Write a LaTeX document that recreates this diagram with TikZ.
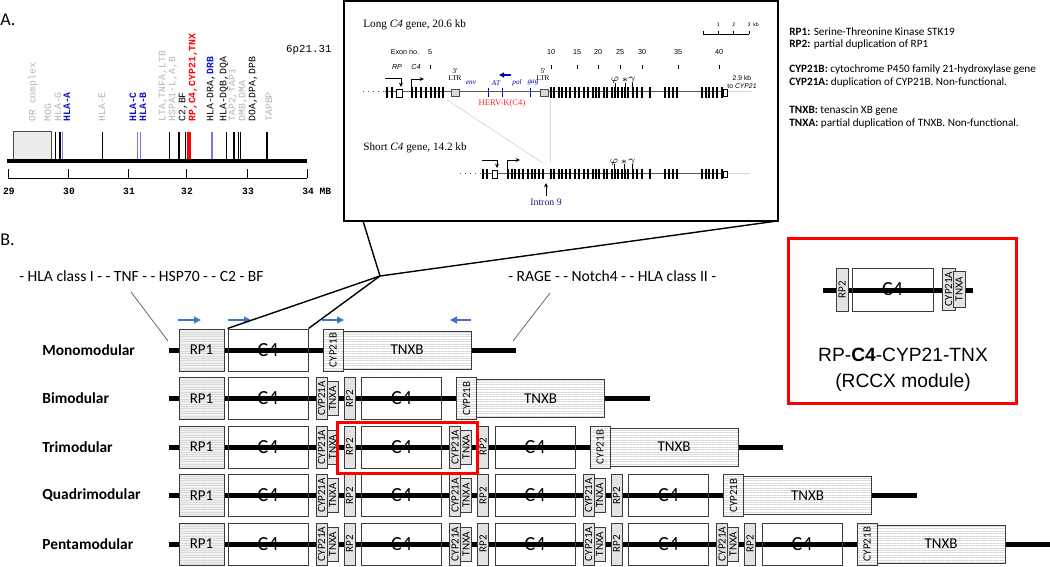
\documentclass[tikz,border=0pt]{standalone}
\usepackage{fontspec}
\usepackage{graphicx}
\setmainfont{Carlito}
\newfontfamily\monofont{Liberation Mono}
\newfontfamily\timesfont{Liberation Serif}
\newfontfamily\arialfont{Liberation Sans}
\usetikzlibrary{arrows.meta,patterns.meta}
\definecolor{boxedge}{HTML}{3C3C3C}
\definecolor{hlablue}{HTML}{1414C8}
\definecolor{ticblue}{HTML}{7878E6}
\definecolor{lightlab}{HTML}{B4B4B4}
\definecolor{arrblue}{HTML}{4472C4}
\definecolor{hervred}{HTML}{FF2828}
\definecolor{intblue}{HTML}{1A1A80}
\newcommand{\setfs}[1]{\fontsize{#1}{#1}\selectfont}

\begin{document}
\begin{tikzpicture}[x=0.5pt,y=-0.5pt,
    chrom/.style={line width=2.5pt},
    genebox/.style={draw=boxedge,line width=0.5pt,inner sep=0pt,minimum height=21pt},
    striped/.style={preaction={fill=#1},preaction={pattern={Lines[angle=0,distance=1.2pt,line width=0.2pt]},pattern color=gray!30}},
    striped/.default=white,
    rpone/.style={genebox,striped=gray!12,minimum width=22.5pt,font=\setfs{7.5}},
    cfour/.style={genebox,minimum width=40pt,font=\setfs{10}},
    smallbox/.style={genebox,fill=gray!22,minimum width=5.5pt,font=\setfs{5.5}},
    cypb/.style={genebox,striped,minimum width=10pt,font=\setfs{5.5}},
    tnxb/.style={genebox,striped,minimum width=64pt,minimum height=19pt,font=\setfs{7.5}},
    rowlabel/.style={anchor=west,inner sep=0pt,font=\bfseries\setfs{7.7}},
    flank/.style={anchor=west,inner sep=0pt,font=\setfs{7.8}},
    dirarrow/.style={arrblue,line width=0.6pt,-{Triangle[length=3.5pt,width=3.5pt]}},
    zoomline/.style={line width=0.7pt},
    redframe/.style={red,line width=1.5pt},
    legend/.style={anchor=west,inner sep=0pt,font=\setfs{5.6}},
    chrlab/.style={rotate=90,anchor=west,inner sep=0pt,font=\monofont\setfs{4.9}},
    mb/.style={inner sep=0pt,font=\monofont\bfseries\setfs{4.8}},
    tiny/.style={inner sep=0pt,font=\arialfont\setfs{3.6}},
    serif/.style={inner sep=0pt,font=\timesfont\setfs{3.6}},
    exon/.style={fill=black},
    geneln/.style={gray!70!black,line width=0.5pt},
    promo/.style={line width=0.4pt,-{Stealth[length=2.2pt,width=2pt]}}
  ]
  \useasboundingbox (0,0) rectangle (1050,567);

  % ---------- panel A: MHC region ----------
  \node[anchor=west,inner sep=0pt,font=\setfs{9}] (labA) at (0,20) {A.};
  \node[anchor=east,inner sep=0pt,font=\monofont\setfs{5.4}] (band) at (332,50) {6p21.31};
  \draw[draw=gray!60!black,fill=gray!15,line width=0.4pt] (13,131) rectangle (51,160);
  \foreach \x/\c in {55.7/black,60/black,62.7/ticblue,102.3/black,137.7/ticblue,140.7/ticblue,
                     169.3/black,179/black,185.7/black,212/ticblue,226.7/black,234/black,
                     238.7/black,240.7/black,267/black}
    \draw[\c,line width=0.7pt] (\x,132) -- (\x,159);
  \draw[red,line width=1.6pt] (189,132) -- (189,159);
  \coordinate (chrs) at (7,161);
  \coordinate (chre) at (307,161);
  \draw[line width=2pt] (chrs) -- (chre);
  \draw[line width=0.4pt] (8,178) -- (307,178);
  \foreach \x/\m in {8/29,68/30,128/31,186/32,247/33} {
    \draw[line width=0.4pt] (\x,178) -- (\x,169);
    \node[mb] at (\x+1,191) {\m};
  }
  \draw[line width=0.4pt] (307,178) -- (307,169);
  \node[mb,anchor=west] at (302,191) {34~MB};

  \node[chrlab,lightlab] (or) at (33,122) {OR complex};
  \node[chrlab,lightlab] (mog) at (48,122) {MOG};
  \node[chrlab,lightlab] (hlag) at (58,122) {HLA-G};
  \node[chrlab,hlablue,font=\monofont\bfseries\setfs{4.9}] (hlaa) at (67,122) {HLA-A};
  \node[chrlab,lightlab] (hlae) at (102,122) {HLA-E};
  \node[chrlab,hlablue,font=\monofont\bfseries\setfs{4.9}] (hlac) at (133,122) {HLA-C};
  \node[chrlab,hlablue,font=\monofont\bfseries\setfs{4.9}] (hlab) at (143,122) {HLA-B};
  \node[chrlab,lightlab] (lta) at (163,122) {LTA,TNFA,LTB};
  \node[chrlab,lightlab] (hspa) at (173,122) {HSPA1-L,A,B};
  \node[chrlab] (ctwo) at (183,122) {C2,BF};
  \node[chrlab,red,font=\monofont\bfseries\setfs{4.9}] (rccx) at (193,122) {RP,C4,CYP21,TNX};
  \node[chrlab] (dra) at (211,122) {HLA-DRA,{\color{hlablue}\bfseries DRB}};
  \node[chrlab] (dqb) at (224,122) {HLA-DQB,DQA};
  \node[chrlab,lightlab] (tap) at (233,122) {TAP2,TAP1};
  \node[chrlab,lightlab] (dmb) at (243,122) {DMB,DMA};
  \node[chrlab] (doa) at (253,122) {DOA,DPA,DPB};
  \node[chrlab,lightlab] (tapbp) at (269,122) {TAPBP};

  % ---------- inset: long and short C4 ----------
  \draw[line width=0.75pt] (344,1) rectangle (778,221);
  \node[anchor=west,inner sep=0pt,font=\timesfont\setfs{5.6}] (longt) at (363,25) {Long \textit{C4} gene, 20.6 kb};
  \node[anchor=west,inner sep=0pt,font=\timesfont\setfs{5.6}] (shortt) at (363,148) {Short \textit{C4} gene, 14.2 kb};
  % scale bar
  \draw[line width=0.35pt] (703,34) -- (749,34);
  \foreach \x in {703,718.3,733.7,749} \draw[line width=0.35pt] (\x,34) -- (\x,31);
  \foreach \x/\n in {718.3/1,733.7/2,749/3} \node[inner sep=0pt,font=\arialfont\setfs{2.6}] at (\x,25) {\n};
  \node[inner sep=0pt,font=\arialfont\setfs{2.6}] at (756,25) {kb};
  % exon numbers
  \node[tiny] (exno) at (405,52) {Exon no.};
  \foreach \x/\n in {430/5,551/10,577/15,598/20,620/25,642/30,678/35,719/40} {
    \node[tiny] at (\x,52) {\n};
    \draw[line width=0.35pt] (\x,65) -- (\x,69);
  }
  \node[tiny,font=\arialfont\itshape\setfs{3.6}] at (397,67) {RP};
  \node[tiny,font=\arialfont\itshape\setfs{3.6}] at (416,67) {C4};
  % long gene
  \draw[geneln,dotted] (363,92) -- (385,92);
  \draw[geneln] (385,92) -- (727,92);
  \draw[gray!30,line width=0.5pt] (727,92) -- (752,92);
  \foreach \x in {387,392,412,416,421,426,431,435,439,443,
                  551,554,559,562,566,570,575,579,584,588,593,596,599,604,607,612,615,618,622,625,
                  628,633,637,642,650,665,669,673,677,702,706,709,713,717,722}
    \fill[exon] (\x-1.3,87) rectangle (\x+1.3,98);
  \draw[line width=0.4pt,fill=white] (396,89) rectangle (402,97);
  \draw[line width=0.4pt,fill=white] (723,89) rectangle (727,96);
  \draw[gray!60!black,fill=gray!30,line width=0.4pt] (451,89) rectangle (459,96);
  \draw[gray!60!black,fill=gray!30,line width=0.4pt] (540,89) rectangle (548,96);
  \foreach \x in {488,502,530} \draw[blue!80!black,line width=0.5pt] (\x,88) -- (\x,97);
  \draw[promo] (385,78) -- (401,78) -- (401,87);
  \draw[promo] (411,92) -- (411,79) -- (424,79);
  \draw[blue!70!black,line width=0.7pt,-{Triangle[length=2.5pt,width=2.5pt]}] (511,75) -- (499,75);
  \node[serif] at (455,71) {3'};
  \node[serif] at (455,78) {LTR};
  \node[serif] at (543,71) {5'};
  \node[serif] at (543,78) {LTR};
  \foreach \x/\t in {471/env,496/AT,517/pol,533/gag}
    \node[serif,blue!75!black,font=\timesfont\itshape\setfs{3.6}] at (\x,83) {\t};
  \node[inner sep=0pt,hervred,font=\timesfont\setfs{4.3}] (herv) at (502,103) {HERV-K(C4)};
  \node[tiny,font=\arialfont\setfs{3.4}] at (742,78) {2.9 kb};
  \node[tiny,font=\arialfont\setfs{3.4}] at (742,86) {to \textit{CYP21}};
  \foreach \x/\s in {615/$\varphi$,625/$*$,632/$\gamma$} {
    \draw[line width=0.3pt] (\x,83) -- (\x,87);
    \node[inner sep=0pt,font=\setfs{2.8}] at (\x,80.5) {\s};
  }
  % short gene
  \draw[gray!30,line width=0.4pt] (447,100) -- (543,163);
  \draw[gray!30,line width=0.4pt] (550,100) -- (550,163);
  \draw[geneln,dotted] (460,174) -- (482,174);
  \draw[geneln] (482,174) -- (727,174);
  \draw[gray!30,line width=0.5pt] (727,174) -- (750,174);
  \foreach \x in {483,487,508,512,515,519,523,528,532,535,539,543,
                  551,554,559,562,566,570,575,579,584,588,593,596,599,604,607,612,615,618,622,625,
                  628,633,637,642,650,665,669,673,677,702,706,709,713,717,722}
    \fill[exon] (\x-1.3,169) rectangle (\x+1.3,179);
  \draw[line width=0.4pt,fill=white] (492,170) rectangle (497,178);
  \draw[line width=0.4pt,fill=white] (723,171) rectangle (727,177);
  \draw[promo] (482,160) -- (497,160) -- (497,168);
  \draw[promo] (507,174) -- (507,160) -- (520,160);
  \foreach \x/\s in {614/$\varphi$,624/$*$,632/$\gamma$} {
    \draw[line width=0.3pt] (\x,164) -- (\x,169);
    \node[inner sep=0pt,font=\setfs{2.8}] at (\x,162) {\s};
  }
  \draw[promo] (546,196) -- (546,183);
  \node[inner sep=0pt,intblue,font=\timesfont\setfs{4.9}] (intron) at (546,202) {Intron 9};

  % ---------- legend ----------
  \node[legend] (lrp1) at (789,32) {\textbf{RP1:} Serine-Threonine Kinase STK19};
  \node[legend] (lrp2) at (789,44.5) {\textbf{RP2:} partial duplication of RP1};
  \node[legend] (lcypb) at (789,70) {\textbf{CYP21B:} cytochrome P450 family 21-hydroxylase gene};
  \node[legend] (lcypa) at (789,82.5) {\textbf{CYP21A:} duplication of CYP21B. Non-functional.};
  \node[legend] (ltnxb) at (789,111) {\textbf{TNXB:} tenascin XB gene};
  \node[legend] (ltnxa) at (789,123.5) {\textbf{TNXA:} partial duplication of TNXB. Non-functional.};

  % ---------- panel B: modules ----------
  \node[anchor=west,inner sep=0pt,font=\setfs{9}] (labB) at (0,240) {B.};
  \node[flank] (left) at (19,276) {- HLA class I - - TNF - - HSP70 - - C2 - BF};
  \node[flank] (right) at (508,276) {- RAGE - - Notch4 - - HLA class II -};

  \foreach \r/\rowname in {1/Monomodular,2/Bimodular,3/Trimodular,4/Quadrimodular,5/Pentamodular}{
    \pgfmathsetmacro{\yy}{350+48.5*(\r-1)}
    \pgfmathsetmacro{\cl}{228+133.5*(\r-1)}
    \pgfmathsetmacro{\xe}{\r==5 ? 1050 : \cl+288}
    \node[rowlabel] (row-\r) at (42,\yy) {\rowname};
    \coordinate (beg-\r) at (169,\yy);
    \coordinate (end-\r) at (\xe,\yy);
    \draw[chrom] (beg-\r) -- (end-\r);
    \node[rpone] (rp1-\r) at (201.5,\yy) {RP1};
    \foreach \k in {1,...,\r}{
      \pgfmathsetmacro{\cc}{228+133.5*(\k-1)}
      \node[cfour] (c4-\r-\k) at (\cc+40,\yy) {C4};
    }
    \ifnum\r>1
    \foreach \k in {2,...,\r}{
      \pgfmathsetmacro{\cc}{228+133.5*(\k-2)}
      \node[smallbox] (cypa-\r-\k) at (\cc+93.5,\yy) {\rotatebox{90}{CYP21A}};
      \node[smallbox,minimum height=17pt] (tnxa-\r-\k) at (\cc+104.5,\yy) {\rotatebox{90}{TNXA}};
      \node[smallbox] (rp2-\r-\k) at (\cc+121.5,\yy) {\rotatebox{90}{RP2}};
    }
    \fi
    \node[cypb] (cypb-\r) at (\cl+105,\yy) {\rotatebox{90}{CYP21B}};
    \node[tnxb] (tnxb-\r) at (\cl+179,\yy) {TNXB};
  }

  % direction of transcription
  \draw[dirarrow] (178,320) -- (201,320);
  \draw[dirarrow] (228,320) -- (251,320);
  \draw[dirarrow] (322,320) -- (344,320);
  \draw[dirarrow] (471,320) -- (450,320);

  % flanking pointers
  \coordinate (lp) at (131,292);
  \coordinate (lq) at (168,341);
  \coordinate (rp) at (550,293);
  \coordinate (rq) at (513,341);
  \draw[gray!70!black,line width=0.35pt] (lp) -- (lq);
  \draw[gray!70!black,line width=0.35pt] (rp) -- (rq);

  % zoom lines from inset to C4
  \coordinate (insl) at (363,221);
  \coordinate (insr) at (777,221);
  \coordinate (hub) at (380,276);
  \draw[zoomline] (insl) -- (hub) -- (insr);
  \draw[zoomline] (hub) -- (c4-1-1.north west);
  \draw[zoomline] (hub) -- (c4-1-1.north east);

  % one RCCX module in the trimodular row
  \draw[redframe] (337,422) rectangle (477,473);

  % ---------- RCCX module box ----------
  \draw[redframe] (788,238) rectangle (1016,403);
  \coordinate (rcs) at (823,290);
  \coordinate (rce) at (973,290);
  \draw[chrom] (rcs) -- (rce);
  \node[smallbox,minimum width=6pt,minimum height=21.5pt] (rcrp2) at (842,289.5) {\rotatebox{90}{RP2}};
  \node[cfour,minimum width=40.5pt,minimum height=21.5pt] (rcc4) at (892.5,289.5) {C4};
  \node[smallbox,minimum width=6.5pt] (rccypa) at (948.5,289) {\rotatebox{90}{CYP21A}};
  \node[smallbox,minimum width=6pt,minimum height=18pt] (rctnxa) at (959,289) {\rotatebox{90}{TNXA}};
  \node[inner sep=0pt,font=\arialfont\setfs{9.6}] (rctitle) at (903,355) {RP-\textbf{C4}-CYP21-TNX};
  \node[inner sep=0pt,font=\arialfont\setfs{9.6}] (rcsub) at (903,383) {(RCCX module)};
\end{tikzpicture}
\end{document}
